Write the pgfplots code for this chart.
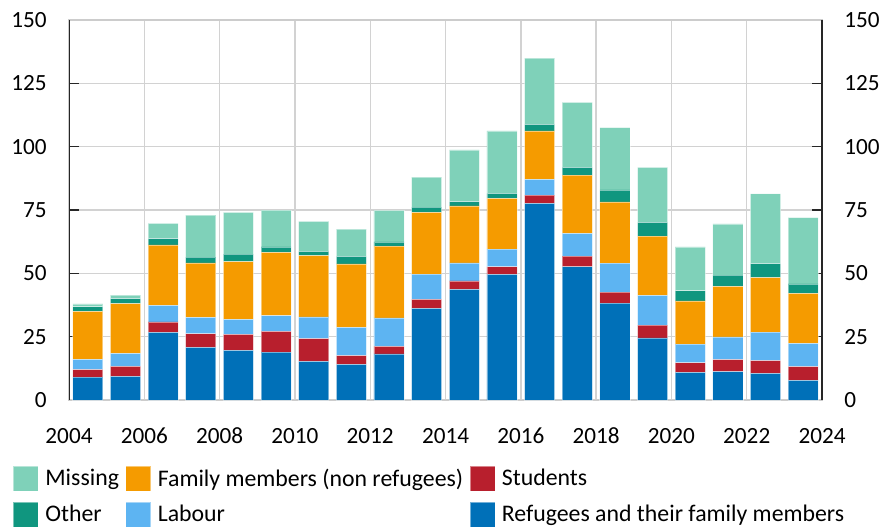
\documentclass[border=0pt]{standalone}
\usepackage{fontspec}
\setmainfont{Carlito}
\usepackage{pgfplots}
\pgfplotsset{compat=1.18}
\usepackage{pgfplotstable}

\definecolor{cMissing}{HTML}{7FD1B9}
\definecolor{cFamily}{HTML}{F59B00}
\definecolor{cStudents}{HTML}{B81F2D}
\definecolor{cOther}{HTML}{10967F}
\definecolor{cLabour}{HTML}{5DB4F2}
\definecolor{cRefugees}{HTML}{0070B8}

\pgfplotstableread{
year ref stu lab fam oth mis
2004.5 9.0 3.0 4.0 19.0 1.8 1.1
2005.5 9.3 4.0 5.1 19.6 2.0 1.4
2006.5 26.7 4.1 6.6 23.8 2.5 6.0
2007.5 20.8 5.3 6.5 21.5 2.3 16.6
2008.5 19.6 6.3 5.9 22.8 3.0 16.5
2009.5 18.9 8.2 6.2 25.0 2.1 14.6
2010.5 15.3 8.9 8.6 24.2 1.7 11.8
2011.5 14.1 3.4 11.2 25.0 3.0 10.8
2012.5 18.2 3.0 11.2 28.3 1.7 12.5
2013.5 36.2 3.5 10.0 24.4 2.0 11.9
2014.5 43.7 3.3 7.1 22.5 1.7 20.4
2015.5 49.6 3.0 7.0 20.0 2.0 24.6
2016.5 77.6 3.3 6.2 19.1 2.6 26.2
2017.5 52.6 4.2 9.0 23.0 3.0 25.7
2018.5 38.2 4.4 11.4 24.2 4.7 24.6
2019.5 24.5 5.1 11.7 23.4 5.4 21.7
2020.5 10.9 3.8 7.4 17.0 4.0 17.3
2021.5 11.2 4.7 9.0 20.0 4.4 20.2
2022.5 10.5 5.0 11.3 21.5 5.5 27.6
2023.5 7.8 5.4 9.2 19.7 3.7 26.2
}\datatable

\pgfplotsset{
  sq/.style={legend image code/.code={\fill[fill=#1] (0pt,-6.25pt) rectangle (12.5pt,6.25pt);}},
  lblfont/.style={font=\fontsize{11.6}{13.9}\selectfont},
  legfont/.style={font=\fontsize{11.9}{14.2}\selectfont},
}

\begin{document}
\begin{tikzpicture}
\useasboundingbox (-34.5pt,-63pt) rectangle (406pt,200pt);
\begin{axis}[
  at={(0,0)}, anchor=south west,
  scale only axis, width=376.5pt, height=190pt,
  xmin=2004, xmax=2024, ymin=0, ymax=150,
  ybar stacked, bar width=0.8,
  xtick={2004,2006,...,2024},
  ytick={0,25,...,150},
  /pgf/number format/1000 sep={},
  /pgf/number format/assume math mode=true,
  grid=major,
  grid style={draw=gray!35, line width=0.7pt},
  axis line style={draw=gray!40, line width=0.7pt},
  tick align=inside,
  xtick style={draw=none},
  ytick style={draw=black!85, line width=0.6pt},
  major tick length=5pt,
  ytick pos=both,
  yticklabel pos=left,
  tick label style={lblfont},
  yticklabel style={anchor=east, inner sep=0pt, xshift=-11pt},
  xticklabel style={anchor=base, inner sep=0pt, yshift=-21.5pt},
  every axis plot/.append style={draw=white, draw opacity=0.45, line width=0.4pt},
  legend columns=3,
  legend cell align=left,
  legend style={at={(-0.07437,-0.17368)}, anchor=north west, draw=none, fill=none,
    inner sep=0pt, outer sep=0pt, legfont,
    nodes={inner sep=0pt},
    /tikz/every odd column/.append style={column sep=3.3pt},
    /tikz/every even column/.append style={column sep=3.2pt},
    /tikz/row sep=5pt},
]
\addplot[fill=cRefugees, forget plot] table[x=year, y=ref] {\datatable};
\addplot[fill=cStudents, forget plot] table[x=year, y=stu] {\datatable};
\addplot[fill=cLabour, forget plot] table[x=year, y=lab] {\datatable};
\addplot[fill=cFamily, forget plot] table[x=year, y=fam] {\datatable};
\addplot[fill=cOther, forget plot] table[x=year, y=oth] {\datatable};
\addplot[fill=cMissing, forget plot] table[x=year, y=mis] {\datatable};
\addlegendimage{sq=cMissing}\addlegendentry{Missing}
\addlegendimage{sq=cFamily}\addlegendentry{Family members (non refugees)}
\addlegendimage{sq=cStudents}\addlegendentry{Students}
\addlegendimage{sq=cOther}\addlegendentry{Other}
\addlegendimage{sq=cLabour}\addlegendentry{Labour}
\addlegendimage{sq=cRefugees}\addlegendentry{Refugees and their family members}
\draw[black!85, line width=0.7pt] (rel axis cs:0,0) -- (rel axis cs:0,1);
\end{axis}
\begin{axis}[
  at={(0,0)}, anchor=south west,
  scale only axis, width=376.5pt, height=190pt,
  xmin=2004, xmax=2024, ymin=0, ymax=150,
  axis x line=none, axis y line*=right,
  axis line style={draw=black!85, line width=0.7pt, -},
  ytick={0,25,...,150},
  ytick style={draw=none},
  /pgf/number format/assume math mode=true,
  tick label style={lblfont},
  yticklabel style={anchor=west, inner sep=0pt, xshift=11pt},
]
\end{axis}
\end{tikzpicture}
\end{document}
